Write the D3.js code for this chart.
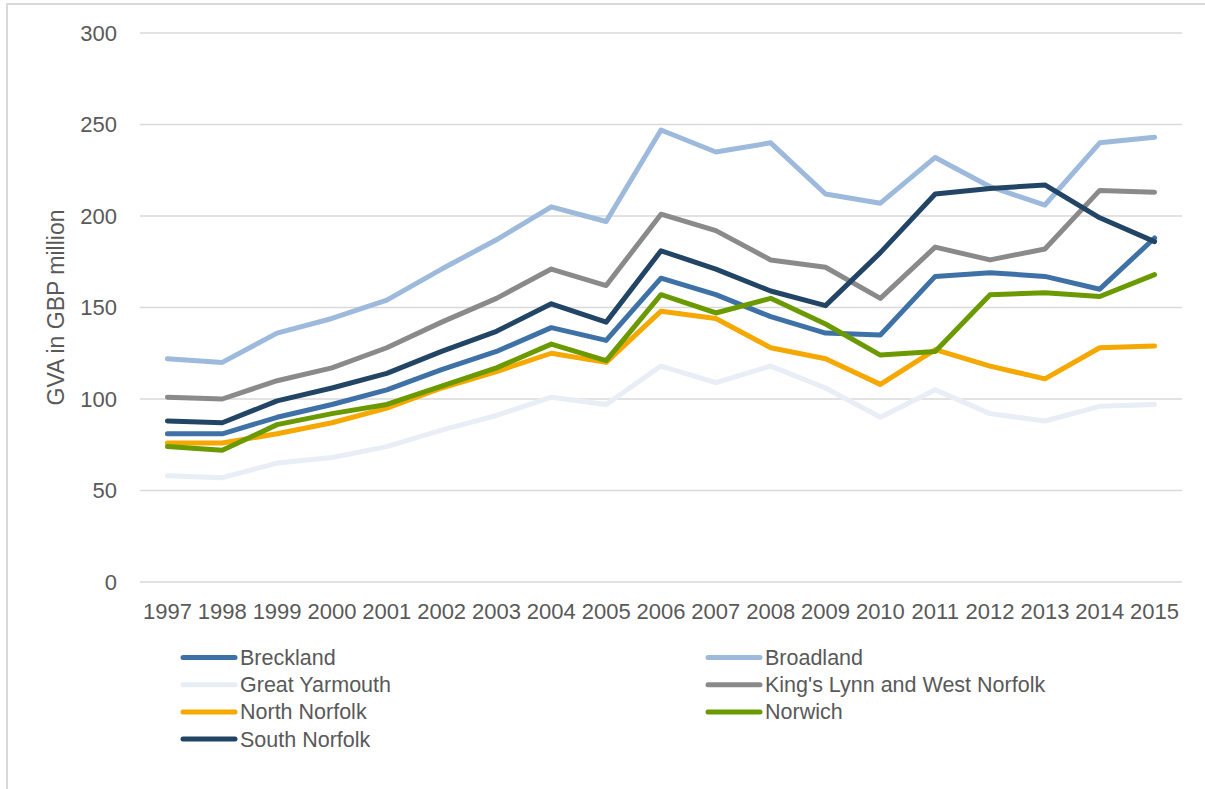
<!DOCTYPE html>
<html>
<head>
<meta charset="utf-8">
<script src="https://cdn.jsdelivr.net/npm/d3@7"></script>
<style>
	body { margin: 0; background: #ffffff; }
	text { font-family: "Liberation Sans", Arial, sans-serif; fill: #595959; }
</style>
</head>
<body>
<div id="lineChart"></div>
<script>
// Data (GVA in GBP million)
const years = ["1997","1998","1999","2000","2001","2002","2003","2004","2005","2006","2007","2008","2009","2010","2011","2012","2013","2014","2015"];
const yTicks = [0, 50, 100, 150, 200, 250, 300];

const breckland     = [81, 81, 90, 97, 105, 116, 126, 139, 132, 166, 157, 145, 136, 135, 167, 169, 167, 160, 188];
const broadland     = [122, 120, 136, 144, 154, 171, 187, 205, 197, 247, 235, 240, 212, 207, 232, 216, 206, 240, 243];
const greatYarmouth = [58, 57, 65, 68, 74, 83, 91, 101, 97, 118, 109, 118, 106, 90, 105, 92, 88, 96, 97];
const kingsLynn     = [101, 100, 110, 117, 128, 142, 155, 171, 162, 201, 192, 176, 172, 155, 183, 176, 182, 214, 213];
const northNorfolk  = [76, 76, 81, 87, 95, 106, 115, 125, 120, 148, 144, 128, 122, 108, 127, 118, 111, 128, 129];
const norwich       = [74, 72, 86, 92, 97, 107, 117, 130, 121, 157, 147, 155, 141, 124, 126, 157, 158, 156, 168];
const southNorfolk  = [88, 87, 99, 106, 114, 126, 137, 152, 142, 181, 171, 159, 151, 180, 212, 215, 217, 199, 186];

const seriesNames  = ["Breckland", "Broadland", "Great Yarmouth", "King's Lynn and West Norfolk", "North Norfolk", "Norwich", "South Norfolk"];
const seriesValues = [breckland, broadland, greatYarmouth, kingsLynn, northNorfolk, norwich, southNorfolk];
const seriesColors = ["#3e72a7", "#9dbadc", "#e8edf6", "#8a8a8a", "#f5a800", "#6a9a00", "#224566"];

const width = 1205;
const height = 789;

const svg = d3
	.select("#lineChart")
	.append("svg")
	.attr("width", width)
	.attr("height", height);

// chart frame (only left and top visible)
svg
	.append("rect")
	.attr("x", 7)
	.attr("y", 4)
	.attr("width", width + 10)
	.attr("height", height + 10)
	.attr("fill", "none")
	.attr("stroke", "#d9d9d9")
	.attr("stroke-width", 2);

// scales
const xScale = d3
	.scaleBand()
	.domain(years)
	.range([140, 1182]);

const yScale = d3
	.scaleLinear()
	.domain([0, 300])
	.range([582, 33]);

// gridlines
svg
	.append("g")
	.selectAll("line")
	.data(yTicks)
	.enter()
	.append("line")
	.attr("x1", 140)
	.attr("x2", 1182)
	.attr("y1", d => yScale(d))
	.attr("y2", d => yScale(d))
	.attr("stroke", "#d9d9d9")
	.attr("stroke-width", 1.5);

// y axis
const yAxis = svg
	.append("g")
	.attr("class", "y-axis")
	.attr("transform", "translate(140,0)")
	.call(d3.axisLeft(yScale).tickValues(yTicks).tickSize(0).tickPadding(23));
yAxis.select(".domain").remove();
yAxis.selectAll("text")
	.style("font-size", "22px")
	.style("font-family", "Liberation Sans, Arial, sans-serif")
	.attr("fill", "#595959");

// x axis
const xAxis = svg
	.append("g")
	.attr("class", "x-axis")
	.attr("transform", "translate(0,582)")
	.call(d3.axisBottom(xScale).tickSize(0).tickPadding(21));
xAxis.select(".domain").remove();
xAxis.selectAll("text")
	.style("font-size", "22px")
	.style("font-family", "Liberation Sans, Arial, sans-serif")
	.attr("fill", "#595959");

// y label
svg
	.append("text")
	.attr("class", "y-label")
	.attr("transform", "translate(64," + yScale(150) + ") rotate(-90)")
	.attr("text-anchor", "middle")
	.style("font-size", "23px")
	.text("GVA in GBP million");

// lines
const line = d3
	.line()
	.x((d, i) => xScale(years[i]) + xScale.bandwidth() / 2)
	.y(d => yScale(d));

svg
	.append("g")
	.selectAll("path")
	.data(seriesValues)
	.enter()
	.append("path")
	.attr("d", d => line(d))
	.attr("fill", "none")
	.attr("stroke", (d, i) => seriesColors[i])
	.attr("stroke-width", 5)
	.attr("stroke-linejoin", "round")
	.attr("stroke-linecap", "round");

// legend, two columns
const legend = svg
	.append("g")
	.selectAll("g")
	.data(seriesNames)
	.enter()
	.append("g")
	.attr("transform", (d, i) => `translate(${i % 2 == 0 ? 181 : 706}, ${657.5 + Math.floor(i / 2) * 27.2})`);

legend
	.append("line")
	.attr("x1", 2)
	.attr("x2", 54)
	.attr("y1", 0)
	.attr("y2", 0)
	.attr("stroke", (d, i) => seriesColors[i])
	.attr("stroke-width", 5)
	.attr("stroke-linecap", "round");

legend
	.append("text")
	.attr("x", 59)
	.attr("y", 0)
	.attr("dy", "0.35em")
	.style("font-size", "21.5px")
	.text(d => d);
</script>
</body>
</html>
